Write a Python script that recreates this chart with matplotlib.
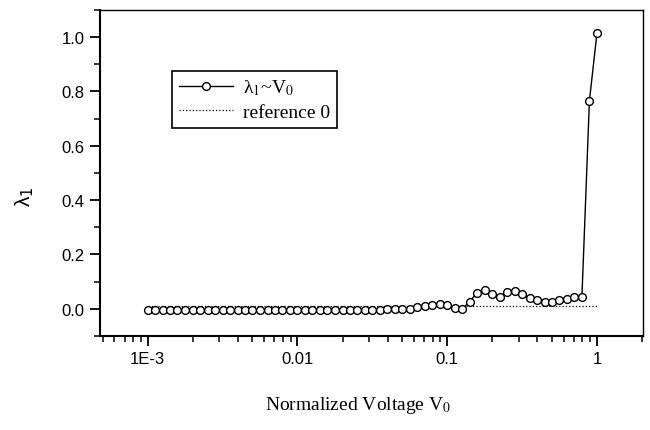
import matplotlib
matplotlib.use('Agg')
import matplotlib.pyplot as plt
from matplotlib.ticker import FixedLocator, FixedFormatter, MultipleLocator

plt.rcParams['font.family'] = 'Liberation Sans'
plt.rcParams['mathtext.fontset'] = 'stix'

# normalized voltage V0 (log spaced)
v0 = [0.001, 0.00112, 0.00126, 0.00141, 0.00158, 0.00178, 0.002, 0.00224, 0.00251, 0.00282,
      0.00316, 0.00355, 0.00398, 0.00447, 0.00501, 0.00562, 0.00631, 0.00708, 0.00794, 0.00891,
      0.01, 0.0112, 0.0126, 0.0141, 0.0158, 0.0178, 0.02, 0.0224, 0.0251, 0.0282,
      0.0316, 0.0355, 0.0398, 0.0447, 0.0501, 0.0562, 0.0631, 0.0708, 0.0794, 0.0891,
      0.1, 0.112, 0.126, 0.141, 0.158, 0.178, 0.2, 0.224, 0.251, 0.282,
      0.316, 0.355, 0.398, 0.447, 0.501, 0.562, 0.631, 0.708, 0.794, 0.891,
      1.0]

lam1 = [-0.005, -0.005, -0.005, -0.005, -0.005, -0.005, -0.005, -0.005, -0.005, -0.005,
        -0.005, -0.005, -0.005, -0.005, -0.005, -0.005, -0.005, -0.005, -0.005, -0.005,
        -0.005, -0.005, -0.005, -0.005, -0.005, -0.005, -0.005, -0.005, -0.004, -0.004,
        -0.003, -0.003, -0.002, -0.002, -0.001, 0.001, 0.005, 0.009, 0.015, 0.017,
        0.015, 0.003, -0.001, 0.027, 0.058, 0.070, 0.056, 0.045, 0.061, 0.067,
        0.056, 0.040, 0.031, 0.027, 0.027, 0.031, 0.035, 0.045, 0.045, 0.766,
        1.013]

ref_x = [0.001, 1.0]
ref_y = [0.01, 0.01]

xticks = [0.001, 0.01, 0.1, 1]
xticklabels = ['1E-3', '0.01', '0.1', '1']

fig = plt.figure(figsize=(6.5, 4.31), dpi=100)
ax = fig.add_axes([0.1538, 0.218, 0.8354, 0.757])

ref_line, = ax.plot(ref_x, ref_y, color='black', linestyle=':', linewidth=0.9, zorder=1)
data_line, = ax.plot(v0, lam1, color='black', linewidth=1.0, marker='o', markersize=5.6,
                     markerfacecolor='white', markeredgecolor='black', markeredgewidth=1.0,
                     zorder=2)

ax.set_xscale('log')
ax.set_xlim(4.8e-4, 2.03)
ax.set_ylim(-0.1, 1.1)

ax.xaxis.set_major_locator(FixedLocator(xticks))
ax.xaxis.set_major_formatter(FixedFormatter(xticklabels))
ax.yaxis.set_major_locator(MultipleLocator(0.2))
ax.yaxis.set_minor_locator(MultipleLocator(0.1))
ax.yaxis.set_major_formatter(plt.FuncFormatter(lambda v, p: '%.1f' % v))

ax.tick_params(which='major', direction='out', length=7, width=1.3, labelsize=12, pad=4)
ax.tick_params(which='minor', direction='out', length=4, width=1.1)
for side in ['left', 'bottom']:
    ax.spines[side].set_linewidth(1.5)
for side in ['top', 'right']:
    ax.spines[side].set_linewidth(1.0)

ax.set_xlabel('Normalized Voltage V$_0$', family='Liberation Serif', fontsize=14)
ax.xaxis.set_label_coords(0.475, -0.178)
ax.set_ylabel('λ$_1$', fontsize=15, math_fontfamily='dejavusans')
ax.yaxis.set_label_coords(-0.118, 0.43)

leg = ax.legend([data_line, ref_line], ['λ$_1$~V$_0$', 'reference 0'],
                loc='upper left', bbox_to_anchor=(0.1326, 0.813), borderaxespad=0,
                prop={'family': 'Liberation Serif', 'size': 14}, fancybox=False,
                edgecolor='black', framealpha=1, numpoints=1, handlelength=2.8,
                handletextpad=0.5, labelspacing=0.3, borderpad=0.35)
leg.get_frame().set_linewidth(1.2)

fig.savefig('out.png', dpi=100)
